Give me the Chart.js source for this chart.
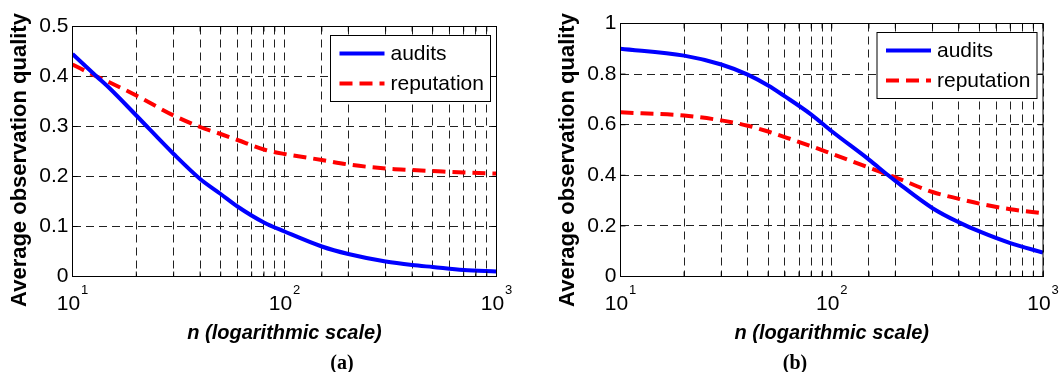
<!DOCTYPE html>
<html>
<head>
<meta charset="utf-8">
<script src="https://cdn.jsdelivr.net/npm/chart.js@4/dist/chart.umd.min.js"></script>
<style>
body { margin: 0; background: #fff; width: 1059px; height: 372px; position: relative; overflow: hidden; }
.panel { position: absolute; top: 0; height: 372px; }
.cap { position: absolute; font: bold 20px "Liberation Serif", "Times New Roman", serif; transform: translate(-50%, -50%); color: #000; }
</style>
</head>
<body>
<div class="panel" style="left:0;width:530px"><canvas id="chartA" width="530" height="372"></canvas></div>
<div class="panel" style="left:530px;width:529px"><canvas id="chartB" width="529" height="372"></canvas></div>
<div class="cap" style="left:342px;top:362px">(a)</div>
<div class="cap" style="left:795px;top:362px">(b)</div>
<script>
// panel (a)
const nA = [10, 13, 15, 20, 30, 40, 50, 60, 80, 100, 150, 200, 300, 400, 500, 700, 1000];
const auditsA = [0.445, 0.40, 0.376, 0.322, 0.245, 0.195, 0.165, 0.14, 0.108, 0.09, 0.06, 0.045, 0.03, 0.023, 0.019, 0.013, 0.01];
const reputationA = [0.424, 0.40, 0.388, 0.362, 0.322, 0.299, 0.285, 0.273, 0.254, 0.245, 0.233, 0.224, 0.216, 0.213, 0.211, 0.208, 0.206];

// panel (b)
const nB = [10, 20, 30, 40, 50, 60, 80, 100, 150, 185, 200, 300, 400, 500, 700, 1000];
const auditsB = [0.90, 0.873, 0.838, 0.798, 0.755, 0.712, 0.64, 0.574, 0.462, 0.40, 0.378, 0.27, 0.214, 0.178, 0.132, 0.095];
const reputationB = [0.649, 0.636, 0.617, 0.596, 0.573, 0.551, 0.515, 0.485, 0.43, 0.402, 0.392, 0.334, 0.307, 0.288, 0.266, 0.25];

const yTicksA = [0, 0.1, 0.2, 0.3, 0.4, 0.5];
const yTicksB = [0, 0.2, 0.4, 0.6, 0.8, 1];
const xExponents = [1, 2, 3];
const seriesNames = ["audits", "reputation"];

const FONT = '"Liberation Sans", Arial, sans-serif';

const matlabAxes = {
    id: "matlabAxes",
    afterDraw(chart) {
        const ctx = chart.ctx;
        const a = chart.chartArea;
        const xs = chart.scales.x;
        const ys = chart.scales.y;
        ctx.save();

        // inner tick marks
        ctx.strokeStyle = "#000";
        ctx.lineWidth = 1;
        ctx.setLineDash([]);
        ctx.beginPath();
        xs.ticks.forEach(t => {
            const px = xs.getPixelForValue(t.value);
            ctx.moveTo(px, a.bottom); ctx.lineTo(px, a.bottom - 5);
            ctx.moveTo(px, a.top); ctx.lineTo(px, a.top + 5);
        });
        ys.ticks.forEach(t => {
            const py = ys.getPixelForValue(t.value);
            ctx.moveTo(a.left, py); ctx.lineTo(a.left + 5, py);
            ctx.moveTo(a.right, py); ctx.lineTo(a.right - 5, py);
        });
        ctx.stroke();

        // box
        ctx.strokeRect(a.left, a.top, a.right - a.left, a.bottom - a.top);

        // x tick labels 10^k
        ctx.fillStyle = "#000";
        ctx.textBaseline = "alphabetic";
        ctx.textAlign = "left";
        xExponents.forEach(e => {
            const px = xs.getPixelForValue(Math.pow(10, e));
            ctx.font = "21px " + FONT;
            const w1 = ctx.measureText("10").width;
            ctx.font = "13px " + FONT;
            const w2 = ctx.measureText(String(e)).width;
            const x0 = px - (w1 + w2 + 1) / 2;
            ctx.font = "21px " + FONT;
            ctx.fillText("10", x0, 310);
            ctx.font = "13px " + FONT;
            ctx.fillText(String(e), x0 + w1 + 1, 294);
        });

        // y title
        ctx.save();
        ctx.translate(a.left - 53, a.bottom - 116.5);
        ctx.rotate(-Math.PI / 2);
        ctx.font = "bold 22px " + FONT;
        ctx.textAlign = "center";
        ctx.textBaseline = "middle";
        ctx.fillText("Average observation quality", 0, 0);
        ctx.restore();

        // legend
        const bw = 160, bh = 66;
        const bx = a.right - 6 - bw, by = a.top + 9;
        ctx.fillStyle = "#fff";
        ctx.fillRect(bx, by, bw, bh);
        ctx.strokeStyle = "#000";
        ctx.lineWidth = 1;
        ctx.strokeRect(bx, by, bw, bh);
        chart.data.datasets.forEach((ds, i) => {
            const ly = by + 18 + i * 30;
            ctx.strokeStyle = ds.borderColor;
            ctx.lineWidth = ds.borderWidth;
            ctx.setLineDash(ds.borderDash || []);
            ctx.beginPath();
            ctx.moveTo(bx + 9, ly);
            ctx.lineTo(bx + 54, ly);
            ctx.stroke();
            ctx.setLineDash([]);
            ctx.fillStyle = "#000";
            ctx.font = "21px " + FONT;
            ctx.textAlign = "left";
            ctx.textBaseline = "middle";
            ctx.fillText(ds.label, bx + 60, ly + 1);
        });
        ctx.restore();
    }
};

function makeChart(id, n, audits, reputation, yTicks, pad, yWidth) {
    const toPts = vals => vals.map((v, i) => ({ x: n[i], y: v }));
    return new Chart(document.getElementById(id), {
        type: "line",
        data: {
            datasets: [{
                label: seriesNames[0],
                data: toPts(audits),
                borderColor: "#0000ff",
                borderWidth: 4,
                pointRadius: 0,
                cubicInterpolationMode: "monotone"
            }, {
                label: seriesNames[1],
                data: toPts(reputation),
                borderColor: "#ff0000",
                borderWidth: 4,
                borderDash: [13, 7],
                pointRadius: 0,
                cubicInterpolationMode: "monotone"
            }]
        },
        options: {
            responsive: false,
            animation: false,
            devicePixelRatio: 1,
            layout: { padding: pad },
            plugins: { legend: { display: false }, tooltip: { enabled: false } },
            scales: {
                x: {
                    type: "logarithmic",
                    min: 10,
                    max: 1000,
                    grid: { color: "#222", lineWidth: 1, drawTicks: false },
                    border: { display: false, dash: [8, 5] },
                    ticks: { display: false, autoSkip: false },
                    title: {
                        display: true,
                        text: "n (logarithmic scale)",
                        color: "#000",
                        font: { family: FONT, size: 20, weight: "bold", style: "italic", lineHeight: 1.2 },
                        padding: { top: 0, bottom: 27 }
                    },
                    afterFit(axis) { axis.height = 95.5; }
                },
                y: {
                    min: yTicks[0],
                    max: yTicks[yTicks.length - 1],
                    grid: { color: "#222", lineWidth: 1, drawTicks: false },
                    border: { display: false, dash: [8, 5] },
                    ticks: {
                        stepSize: yTicks[1] - yTicks[0],
                        color: "#000",
                        padding: 4,
                        font: { family: FONT, size: 21 },
                        callback: v => String(+v.toFixed(1))
                    },
                    afterFit(axis) { axis.width = yWidth; }
                }
            }
        },
        plugins: [matlabAxes]
    });
}

makeChart("chartA", nA, auditsA, reputationA, yTicksA, { left: 0, top: 26.5, right: 33.5, bottom: 0 }, 72.5);
makeChart("chartB", nB, auditsB, reputationB, yTicksB, { left: 0, top: 23.5, right: 16, bottom: 0 }, 90.5);
</script>
</body>
</html>
